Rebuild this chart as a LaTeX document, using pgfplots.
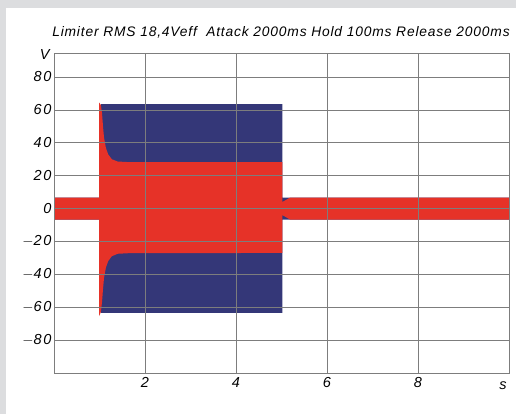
\documentclass[border=0pt]{standalone}
\usepackage{pgfplots}
\pgfplotsset{compat=1.18}
\usepackage{fontspec}
\setmainfont{Liberation Sans}
\newfontfamily\tickf{Liberation Sans}[LetterSpace=12]
\newfontfamily\titlef{Liberation Sans}[LetterSpace=6]
\definecolor{bgg}{RGB}{220,221,223}
\definecolor{navy}{RGB}{52,55,120}
\definecolor{lred}{RGB}{230,50,40}
\definecolor{gridg}{RGB}{125,125,125}
\begin{document}
\begin{tikzpicture}[x=1pt,y=1pt]
\useasboundingbox (0,0) rectangle (516,414);
\fill[bgg] (0,0) rectangle (516,414);
\fill[white] (6,0) rectangle (516,406);
\begin{axis}[
  at={(54pt,41pt)}, anchor=south west,
  scale only axis, width=455pt, height=320pt,
  xmin=0, xmax=10, ymin=-100, ymax=94.6,
  xtick={2,4,6,8}, ytick={-80,-60,-40,-20,0,20,40,60,80},
  grid=major,
  major grid style={draw=gridg, line width=0.7pt},
  axis line style={draw=gridg, line width=0.9pt},
  tick style={draw=none},
  axis on top,
  /pgf/number format/assume math mode=true,
  ticklabel style={font=\tickf\itshape\fontsize{14.5}{14.5}\selectfont},
  yticklabel style={xshift=1pt},
  xticklabel style={yshift=-1pt},
  yticklabels={$-$80,$-$60,$-$40,$-$20,0,20,40,60,80},
]
\addplot[fill=navy, draw=none] coordinates {
 (0,6.7) (1.035,6.7) (1.035,63.5) (5.02,63.5) (5.02,6.7) (10,6.7)
 (10,-6.7) (5.02,-6.7) (5.02,-63.5) (1.035,-63.5) (1.035,-6.7) (0,-6.7)} -- cycle;
\addplot[fill=lred, draw=none] coordinates {
 (0,6.7) (0.99,6.7) (0.99,64.5) (1.03,63) (1.055,58) (1.077,50) (1.1,43)
 (1.14,37) (1.19,33) (1.27,30) (1.4,28.6) (1.67,28.2) (5.02,28.2)
 (5.02,4) (5.19,6.7) (10,6.7)
 (10,-6.7) (5.19,-6.7) (5.02,-4) (5.02,-27) (1.67,-27.1) (1.4,-27.5)
 (1.27,-29) (1.19,-32) (1.14,-36) (1.1,-42) (1.077,-49) (1.055,-57)
 (1.03,-63) (0.99,-65.4) (0.99,-6.7) (0,-6.7)} -- cycle;
\end{axis}
\node[font=\tickf\itshape\fontsize{14.5}{14.5}\selectfont, anchor=east] at (53,359) {V};
\node[font=\tickf\itshape\fontsize{14.5}{14.5}\selectfont] at (503,28) {s};
\node[font=\titlef\itshape\fontsize{13.8}{13.8}\selectfont] at (281,382) {Limiter RMS 18,4Veff\ \ Attack 2000ms Hold 100ms Release 2000ms};
\end{tikzpicture}
\end{document}
